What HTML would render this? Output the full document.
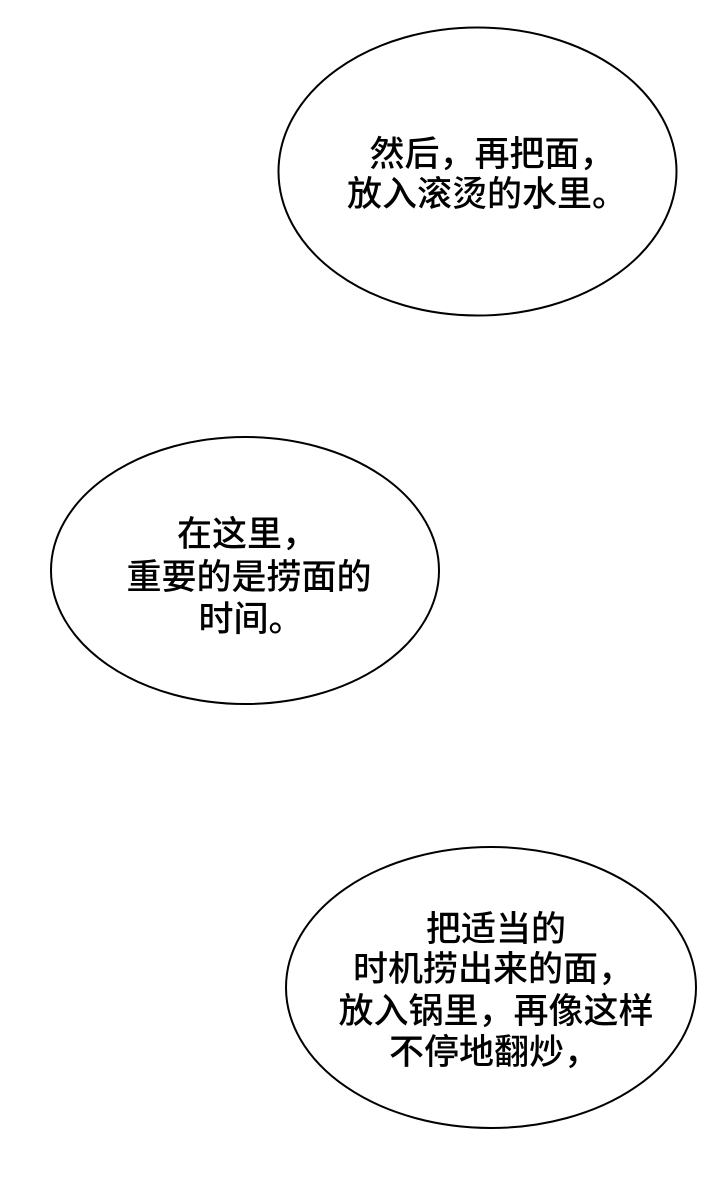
<!DOCTYPE html>
<html><head><meta charset="utf-8"><style>
html,body{margin:0;padding:0;background:#fff;}
body{width:720px;height:1201px;position:relative;overflow:hidden;font-family:"Liberation Sans","Noto Sans CJK SC",sans-serif;}
.l{position:absolute;white-space:nowrap;font-size:35px;line-height:40px;color:#000;transform:translateX(-50%);font-weight:500;}
svg{position:absolute;left:0;top:0;}
</style></head><body>
<svg width="720" height="1201">
<ellipse cx="477.5" cy="171.5" rx="199" ry="144" fill="#fff" stroke="#000" stroke-width="2"/>
<ellipse cx="245" cy="570.5" rx="194" ry="133.5" fill="#fff" stroke="#000" stroke-width="2"/>
<ellipse cx="491" cy="987.5" rx="205" ry="140.5" fill="#fff" stroke="#000" stroke-width="2"/>
</svg>
<div class="l" style="left:492px;top:135px">然后，再把面，</div>
<div class="l" style="left:487px;top:175px">放入滚烫的水里。</div>
<div class="l" style="left:247px;top:515px">在这里，</div>
<div class="l" style="left:249px;top:558px">重要的是捞面的</div>
<div class="l" style="left:251px;top:600px">时间。</div>
<div class="l" style="left:496px;top:910px">把适当的</div>
<div class="l" style="left:493px;top:950px">时机捞出来的面，</div>
<div class="l" style="left:496px;top:992px">放入锅里，再像这样</div>
<div class="l" style="left:494px;top:1033px">不停地翻炒，</div>
</body></html>
